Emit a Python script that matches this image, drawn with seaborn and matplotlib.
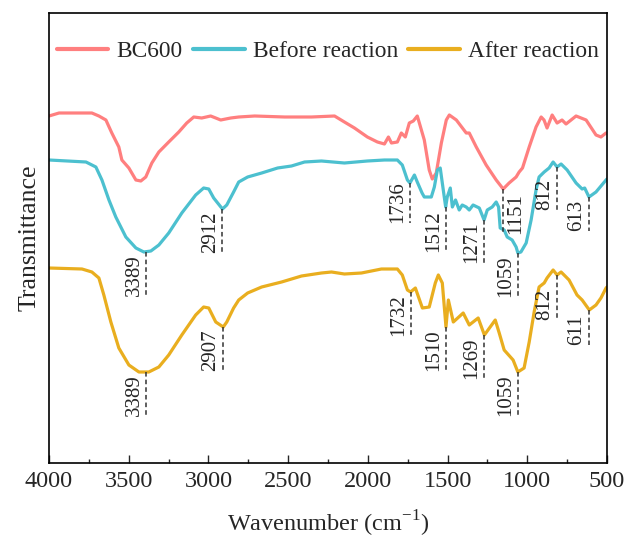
import numpy as np
import pandas as pd
import seaborn as sns
import matplotlib.pyplot as plt

# FTIR spectra (wavenumber in cm-1, transmittance in arbitrary offset units)
bc600_wn = [4000, 3937, 3793, 3731, 3687, 3643, 3606, 3562, 3543, 3499, 3455, 3424, 3393,
            3355, 3311, 3249, 3186, 3136, 3092, 3042, 2986, 2954, 2923, 2860, 2810, 2710,
            2522, 2353, 2209, 2147, 2084, 2003, 1940, 1896, 1871, 1852, 1815, 1790, 1765,
            1740, 1715, 1690, 1677, 1646, 1615, 1596, 1571, 1539, 1508, 1489, 1445, 1383,
            1364, 1320, 1258, 1195, 1151, 1114, 1070, 1051, 1030, 988, 945, 913, 895, 876,
            844, 813, 782, 757, 694, 631, 569, 538, 506, 500]
bc600_t = [347, 350, 350, 350, 347, 343, 330, 316, 303, 295, 283, 282, 286,
           300, 311, 321, 331, 340, 346, 345, 347, 345, 343, 345, 346, 347,
           346, 346, 347, 341, 335, 326, 321, 319, 326, 320, 321, 330, 326,
           340, 342, 347, 340, 323, 293, 284, 290, 320, 343, 348, 343, 330,
           330, 316, 298, 283, 274, 280, 286, 291, 295, 316, 336, 346, 343, 335,
           348, 340, 343, 339, 347, 343, 328, 326, 330, 330]

before_wn = [4000, 3768, 3706, 3668, 3624, 3581, 3518, 3455, 3405, 3361, 3311, 3249, 3167,
             3080, 3030, 2998, 2967, 2912, 2885, 2842, 2810, 2754, 2666, 2566, 2479, 2397,
             2291, 2147, 2003, 1896, 1815, 1784, 1752, 1736, 1708, 1690, 1660, 1646, 1633,
             1602, 1583, 1564, 1546, 1533, 1512, 1502, 1483, 1470, 1450, 1427, 1408, 1383,
             1364, 1340, 1301, 1271, 1251, 1220, 1195, 1180, 1170, 1145, 1126, 1095, 1070,
             1059, 1040, 1007, 976, 945, 926, 894, 863, 838, 813, 788, 750, 694, 656, 640,
             613, 569, 506, 500]
before_t = [303, 301, 296, 283, 263, 246, 226, 215, 211, 212, 218, 230, 250,
            268, 275, 274, 265, 254, 258, 271, 281, 286, 290, 295, 297, 301,
            302, 300, 302, 303, 303, 298, 283, 280, 288, 281, 270, 266, 266,
            266, 276, 293, 295, 280, 256, 266, 275, 256, 263, 253, 258, 256,
            253, 258, 255, 243, 253, 256, 261, 256, 235, 233, 226, 223, 216,
            210, 211, 220, 243, 273, 286, 291, 295, 301, 296, 299, 293, 280, 274, 275,
            266, 271, 283, 284]

after_wn = [4000, 3793, 3731, 3687, 3656, 3612, 3562, 3499, 3436, 3389, 3374, 3311, 3249,
            3167, 3080, 3030, 2998, 2954, 2907, 2885, 2842, 2810, 2754, 2666, 2541, 2416,
            2291, 2228, 2147, 2040, 1915, 1815, 1784, 1752, 1732, 1702, 1658, 1615, 1577,
            1558, 1533, 1510, 1495, 1464, 1402, 1364, 1308, 1269, 1201, 1176, 1145, 1089,
            1059, 1020, 988, 957, 926, 894, 876, 838, 813, 788, 738, 688, 656, 611, 569,
            538, 506, 500]
after_t = [195, 194, 191, 185, 168, 141, 115, 98, 91, 91, 91, 96, 108,
           128, 148, 156, 155, 141, 136, 141, 155, 163, 170, 176, 181, 187,
           190, 191, 189, 190, 194, 194, 188, 173, 171, 175, 155, 156, 180,
           188, 180, 136, 163, 141, 150, 138, 145, 128, 143, 130, 113, 103,
           91, 95, 121, 151, 176, 180, 185, 193, 188, 191, 183, 168, 163, 153, 158,
           165, 175, 176]

names = ["BC600", "Before reaction", "After reaction"]
colors = ["#FF7F7F", "#4CC0CF", "#E9AE1F"]

# peak labels: (series, wavenumber label, side of text, dash length)
peaks = [
    ("Before reaction", 3389, "left", 44), ("Before reaction", 2912, "left", 44),
    ("Before reaction", 1736, "left", 40), ("Before reaction", 1512, "left", 45),
    ("Before reaction", 1271, "left", 43), ("Before reaction", 1059, "left", 44),
    ("Before reaction", 812, "left", 43), ("Before reaction", 613, "left", 34),
    ("BC600", 1151, "right", 45),
    ("After reaction", 3389, "left", 44), ("After reaction", 2907, "left", 44),
    ("After reaction", 1732, "left", 44), ("After reaction", 1510, "left", 44),
    ("After reaction", 1269, "left", 44), ("After reaction", 1059, "left", 44),
    ("After reaction", 812, "left", 45), ("After reaction", 611, "left", 35),
]

df = pd.concat([
    pd.DataFrame({"wn": bc600_wn, "T": bc600_t, "sample": names[0]}),
    pd.DataFrame({"wn": before_wn, "T": before_t, "sample": names[1]}),
    pd.DataFrame({"wn": after_wn, "T": after_t, "sample": names[2]}),
])

sns.set_theme(style="ticks")
plt.rcParams["font.family"] = ["Liberation Serif", "DejaVu Serif"]
plt.rcParams["mathtext.fontset"] = "custom"
plt.rcParams["mathtext.rm"] = "Liberation Serif"

fig = plt.figure(figsize=(6.3, 5.41), dpi=100)
ax = fig.add_axes([49 / 630, 78 / 541, 558 / 630, 450 / 541])

sns.lineplot(data=df, x="wn", y="T", hue="sample", hue_order=names,
             palette=colors, linewidth=2.3, ax=ax, legend=False, sort=True)

series = {names[0]: (bc600_wn, bc600_t), names[1]: (before_wn, before_t),
          names[2]: (after_wn, after_t)}
for name, wn, side, drop in peaks:
    xs, ys = series[name]
    y0 = np.interp(wn, xs[::-1], ys[::-1])
    ax.plot([wn, wn], [y0, y0 - drop], ls=(0, (3, 2)), color="#333333", lw=1.1)
    if side == "left":
        ax.annotate(str(wn), (wn, y0 - drop), xytext=(-2, 0), textcoords="offset points",
                    rotation=90, ha="right", va="bottom", fontsize=15)
    else:
        ax.annotate(str(wn), (wn, y0 - drop), xytext=(2, 0), textcoords="offset points",
                    rotation=90, ha="left", va="bottom", fontsize=15)

ax.set_xlim(4000, 500)
ax.set_ylim(0, 450)
ax.set_xticks(np.arange(4000, 499, -500))
ax.set_xticks(np.arange(3750, 500, -500), minor=True)
ax.set_yticks([])
ax.tick_params(axis="x", which="major", direction="in", length=6, width=1, labelsize=17.5, pad=6)
ax.tick_params(axis="x", which="minor", direction="in", length=3, width=1)
for s in ax.spines.values():
    s.set_linewidth(1.2)
    s.set_color("black")

ax.set_xlabel("Wavenumber (cm$^{\\mathrm{-1}}$)", fontsize=17.5, labelpad=12)
ax.set_ylabel("Transmittance", fontsize=18.5, labelpad=6)

handles = [plt.Line2D([], [], color=c, lw=3) for c in colors]
ax.legend(handles, names, loc="upper center", ncol=3, frameon=False, fontsize=16.8,
          handlelength=2.2, columnspacing=0.45, handletextpad=0.35,
          bbox_to_anchor=(0.5, 0.985))

fig.savefig("out.png", dpi=100)
